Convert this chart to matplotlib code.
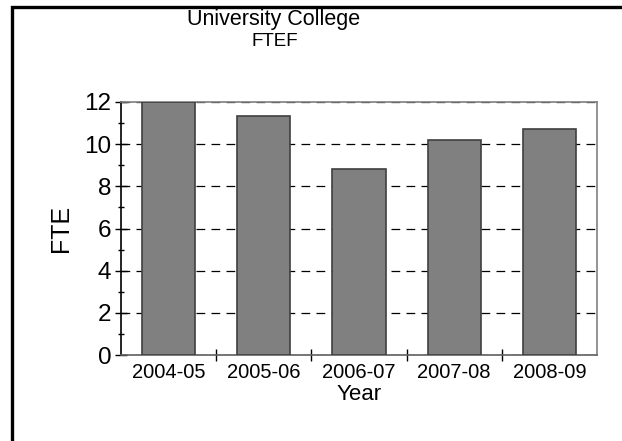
import matplotlib
matplotlib.use("Agg")
import matplotlib.pyplot as plt
from matplotlib.patches import Rectangle
from matplotlib.ticker import MultipleLocator

years = ["2004-05", "2005-06", "2006-07", "2007-08", "2008-09"]
fte = [12.0, 11.33, 8.83, 10.19, 10.7]

W, H = 622, 441
plt.rcParams["font.family"] = ["Liberation Sans", "DejaVu Sans"]

fig = plt.figure(figsize=(W / 100, H / 100), dpi=100)
ax = fig.add_axes([121 / W, 1 - 355 / H, (597 - 121) / W, (355 - 102) / H])

x = range(len(years))
ax.bar(x, fte, width=0.56, color="#808080", edgecolor="#404040",
       linewidth=1.2, zorder=3)

ax.set_xlim(-0.5, len(years) - 0.5)
ax.set_ylim(0, 12)
ax.yaxis.set_major_locator(MultipleLocator(2))
ax.yaxis.set_minor_locator(MultipleLocator(1))
# category dividers as major ticks, labels on minor ticks at bar centres
ax.set_xticks([i + 0.5 for i in range(len(years) - 1)])
ax.set_xticklabels([])
ax.set_xticks(list(x), minor=True)
ax.set_xticklabels(years, minor=True, fontsize=14.5)

ax.grid(axis="y", which="major", color="black", linestyle=(0, (7, 5)),
        linewidth=0.9, zorder=1)

ax.tick_params(axis="y", which="major", direction="inout", length=8,
               width=1, labelsize=17.5, pad=3)
ax.tick_params(axis="y", which="minor", direction="inout", length=5, width=1)
ax.tick_params(axis="x", which="major", direction="inout", length=9, width=1)
ax.tick_params(axis="x", which="minor", length=0, pad=6)

for s in ["top", "right"]:
    ax.spines[s].set_color("#808080")
ax.spines["bottom"].set_color("#606060")
ax.spines["left"].set_color("black")
for s in ax.spines.values():
    s.set_linewidth(1.2)

ax.set_ylabel("FTE", fontsize=18, labelpad=8)
ax.set_xlabel("Year", fontsize=16, labelpad=1)

fig.text(274 / W, 1 - 20 / H, "University College", fontsize=15.5,
         ha="center", va="center")
fig.text(275 / W, 1 - 41.5 / H, "FTEF", fontsize=13.5, ha="center", va="center")

# outer frame, clipped at the right and bottom edges
fig.patches.append(Rectangle((12 / W, -0.1), 1.2, 1 - 6.5 / H + 0.1,
                             transform=fig.transFigure, fill=False,
                             edgecolor="black", linewidth=2.4))

fig.savefig("out.png", dpi=100)
